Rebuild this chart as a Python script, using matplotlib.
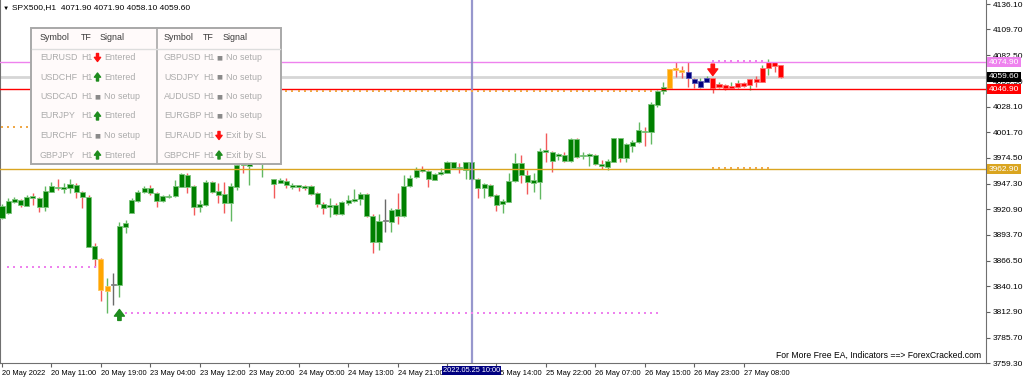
import numpy as np
import matplotlib.pyplot as plt
from matplotlib.patches import Rectangle
from matplotlib.transforms import blended_transform_factory

plt.rcParams['font.family'] = ['Liberation Sans', 'DejaVu Sans']

# SPX500 H1 candles
opens = [3911.5, 3916.8, 3928.3, 3930.4, 3924.1, 3934.6, 3932.5, 3923.1, 3938.8, 3944.1,
         3942.0, 3943.0, 3946.2, 3938.8, 3933.6, 3882.1, 3868.5, 3834.9, 3841.2, 3841.2,
         3902.1, 3916.8, 3929.4, 3938.8, 3943.0, 3937.8, 3929.4, 3933.6, 3934.6, 3944.1,
         3956.7, 3945.1, 3923.1, 3925.2, 3949.3, 3939.9, 3936.7, 3927.3, 3944.1, 3972.4,
         3966.1, 3972.4, 3968.2, 3974.5, 3952.5, 3948.3, 3950.4, 3944.1, 3946.2, 3945.1,
         3945.1, 3937.8, 3926.2, 3923.1, 3925.2, 3915.7, 3927.3, 3929.4, 3931.5, 3936.7,
         3913.6, 3886.3, 3908.4, 3907.3, 3921.0, 3913.6, 3945.1, 3954.6, 3963.0, 3960.9,
         3951.4, 3957.7, 3958.8, 3970.3, 3965.1, 3961.9, 3970.3, 3952.5, 3943.0, 3946.2,
         3935.7, 3926.2, 3928.3, 3950.4, 3969.3, 3956.7, 3948.3, 3949.3, 3982.9, 3980.8,
         3976.6, 3977.7, 3971.4, 3994.5, 3976.6, 3976.6, 3977.7, 3968.2, 3965.1, 3970.3,
         3995.5, 3974.5, 3987.1, 3991.3, 4002.9, 4001.8, 4030.2, 4044.9, 4048.0, 4069.0,
         4066.9, 4064.8, 4057.5, 4049.1, 4054.3, 4058.5, 4049.1, 4051.2, 4048.0, 4049.1,
         4053.3, 4051.2, 4057.5, 4054.3, 4069.0, 4075.3, 4071.9]
highs = [3926.2, 3932.5, 3933.6, 3931.5, 3935.7, 3937.8, 3933.6, 3945.1, 3949.3, 3952.5,
         3948.3, 3952.5, 3948.3, 3939.5, 3935.7, 3885.3, 3869.5, 3848.5, 3853.8, 3907.3,
         3909.4, 3932.5, 3940.9, 3945.1, 3946.2, 3938.8, 3935.7, 3936.7, 3951.4, 3958.8,
         3958.8, 3946.2, 3930.4, 3951.4, 3950.4, 3948.3, 3949.3, 3948.3, 3969.3, 3977.7,
         3977.7, 3982.9, 3980.8, 3977.7, 3952.8, 3953.5, 3953.5, 3948.3, 3946.5, 3946.2,
         3946.2, 3938.8, 3928.3, 3932.5, 3927.3, 3929.4, 3935.7, 3942.0, 3938.8, 3937.8,
         3915.7, 3915.7, 3931.5, 3922.0, 3937.8, 3956.7, 3956.7, 3965.1, 3966.1, 3961.9,
         3958.8, 3964.0, 3971.4, 3970.6, 3969.3, 3970.6, 3970.6, 3953.5, 3948.3, 3947.2,
         3936.7, 3931.5, 3958.8, 3979.8, 3977.7, 3961.9, 3958.8, 3985.0, 4000.8, 3981.9,
         3979.8, 3980.8, 3995.5, 3995.5, 3980.8, 3979.8, 3978.7, 3972.4, 3973.5, 3995.5,
         3995.8, 3990.3, 3993.4, 4012.3, 4007.1, 4033.3, 4045.9, 4054.3, 4068.0, 4075.3,
         4071.1, 4075.3, 4058.5, 4058.5, 4060.6, 4058.8, 4054.3, 4052.2, 4054.3, 4056.4,
         4054.3, 4057.5, 4060.6, 4072.2, 4078.5, 4075.6, 4071.9]
lows = [3910.5, 3916.2, 3927.3, 3923.1, 3923.8, 3925.2, 3917.8, 3918.9, 3938.5, 3940.9,
        3937.8, 3937.8, 3932.5, 3922.0, 3881.1, 3860.1, 3824.4, 3811.8, 3820.2, 3828.6,
        3895.8, 3916.5, 3928.3, 3937.8, 3935.7, 3923.1, 3928.3, 3932.5, 3933.6, 3943.8,
        3937.8, 3914.7, 3917.8, 3924.1, 3937.8, 3927.3, 3916.8, 3908.4, 3940.9, 3958.8,
        3946.2, 3968.2, 3954.6, 3968.2, 3932.5, 3948.0, 3943.0, 3942.0, 3939.9, 3940.9,
        3935.7, 3923.1, 3915.7, 3912.6, 3914.7, 3914.7, 3925.2, 3928.3, 3925.2, 3912.6,
        3874.8, 3877.9, 3896.8, 3896.8, 3905.2, 3912.6, 3944.1, 3953.5, 3959.8, 3944.1,
        3951.1, 3956.7, 3958.5, 3963.9, 3958.8, 3952.5, 3951.4, 3932.5, 3932.5, 3933.6,
        3918.9, 3916.8, 3928.0, 3949.3, 3948.3, 3936.7, 3938.8, 3931.5, 3970.3, 3959.8,
        3972.4, 3970.3, 3970.3, 3974.5, 3973.5, 3966.1, 3967.2, 3963.0, 3961.9, 3970.0,
        3970.3, 3970.3, 3980.8, 3990.3, 3987.1, 3989.2, 4028.1, 4041.7, 4047.7, 4059.6,
        4058.5, 4049.1, 4048.0, 4048.0, 4054.0, 4042.8, 4048.0, 4045.9, 4047.7, 4048.0,
        4049.1, 4045.9, 4049.1, 4054.0, 4061.7, 4064.8, 4058.1]
closes = [3924.1, 3929.4, 3931.5, 3925.2, 3933.6, 3932.5, 3923.1, 3939.9, 3945.1, 3943.0,
          3944.1, 3947.2, 3938.8, 3933.6, 3881.5, 3868.5, 3835.9, 3840.1, 3841.0, 3903.1,
          3906.3, 3930.4, 3938.8, 3943.0, 3937.8, 3929.4, 3934.6, 3934.6, 3945.1, 3957.7,
          3944.1, 3923.1, 3926.2, 3949.3, 3938.8, 3935.7, 3927.3, 3945.1, 3967.2, 3967.2,
          3974.5, 3977.7, 3974.5, 3969.3, 3947.2, 3951.4, 3946.2, 3946.2, 3944.1, 3943.0,
          3936.7, 3926.2, 3922.0, 3925.2, 3915.7, 3928.3, 3930.4, 3931.5, 3936.7, 3913.6,
          3886.3, 3908.4, 3908.6, 3919.9, 3913.6, 3945.1, 3953.5, 3961.9, 3960.9, 3952.5,
          3957.7, 3959.8, 3970.3, 3964.3, 3964.0, 3970.3, 3952.5, 3943.0, 3947.2, 3934.6,
          3925.2, 3929.4, 3950.4, 3969.3, 3956.7, 3949.3, 3951.4, 3981.9, 3980.8, 3971.4,
          3978.7, 3971.4, 3994.5, 3975.6, 3977.7, 3978.7, 3968.2, 3966.1, 3971.4, 3995.2,
          3974.5, 3989.2, 3991.3, 4003.9, 4001.8, 4031.2, 4044.9, 4049.1, 4067.7, 4066.9,
          4064.8, 4058.5, 4053.3, 4055.4, 4058.5, 4048.0, 4052.2, 4048.0, 4050.1, 4053.3,
          4050.1, 4057.3, 4054.3, 4069.0, 4075.3, 4071.1, 4059.6]

# bars painted by the signal indicator
orange_bars = [16, 17, 108, 109, 110]
gray_bars = [18, 62]
navy_bars = [111, 112, 113, 114]
red_bars = list(range(115, 127))

# levels
violet_level = 4074.90
bid_level = 4059.60
red_level = 4046.90
gold_level = 3962.90
cursor_bar = 76

# dotted indicator levels: (price, first bar, last bar, colour)
dotted_levels = [
    (4044.9, 40, 105, '#f0a848'),
    (4007.1, 0, 12, '#f0a848'),
    (3860.0, 1, 15, '#ee82ee'),
    (3812.1, 20, 106, '#ee82ee'),
    (4076.3, 115, 123, '#ee82ee'),
    (3964.3, 115, 124, '#f0a848'),
]

# every 8th bar; the 25 May 06:00 label sits under the cursor time tag
x_tick_labels = ['20 May 2022', '20 May 11:00', '20 May 19:00', '23 May 04:00',
                 '23 May 12:00', '23 May 20:00', '24 May 05:00', '24 May 13:00',
                 '24 May 21:00', '', '25 May 14:00', '25 May 22:00',
                 '26 May 07:00', '26 May 15:00', '26 May 23:00', '27 May 08:00']
y_tick_values = [4136.10, 4109.70, 4082.50, 4055.30, 4028.10, 4001.70, 3974.50,
                 3947.30, 3920.90, 3893.70, 3866.50, 3840.10, 3812.90, 3785.70, 3759.30]

# signal table
left_symbols = ['EURUSD', 'USDCHF', 'USDCAD', 'EURJPY', 'EURCHF', 'GBPJPY']
left_marks = ['down', 'up', 'none', 'up', 'none', 'up']
left_signals = ['Entered', 'Entered', 'No setup', 'Entered', 'No setup', 'Entered']
right_symbols = ['GBPUSD', 'USDJPY', 'AUDUSD', 'EURGBP', 'EURAUD', 'GBPCHF']
right_marks = ['none', 'none', 'none', 'none', 'down', 'up']
right_signals = ['No setup', 'No setup', 'No setup', 'No setup', 'Exit by SL', 'Exit by SL']

W, H = 1024, 380
fig = plt.figure(figsize=(W / 100, H / 100), dpi=100)
ax = fig.add_axes([0, (H - 363) / H, 986 / W, 363 / H])

o = np.array(opens)
hi = np.array(highs)
lo = np.array(lows)
c = np.array(closes)
idx = np.arange(len(o))

wick_colors = np.where(c >= o, '#62b862', '#f25a5a').astype(object)
body_colors = np.array(['#008000'] * len(o), dtype=object)
edge_colors = np.array(['#7cc47c'] * len(o), dtype=object)
for i in orange_bars:
    body_colors[i], edge_colors[i] = '#ffa500', '#ffc45c'
for i in gray_bars:
    body_colors[i], edge_colors[i], wick_colors[i] = '#808080', '#808080', '#6a6a6a'
for i in navy_bars:
    body_colors[i], edge_colors[i] = '#000080', '#5a5ab4'
for i in red_bars:
    body_colors[i], edge_colors[i] = '#ff0000', '#ff7070'

ax.vlines(idx, lo, hi, colors=list(wick_colors), lw=1.0, zorder=2)
heights = np.maximum(np.abs(c - o), 0.9)
ax.bar(idx, heights, bottom=np.minimum(o, c), width=0.82, color=list(body_colors),
       edgecolor=list(edge_colors), linewidth=0.6, zorder=3)

ax.axhline(bid_level, color='#d6d6d6', lw=2.0, zorder=1)
ax.axhline(violet_level, color='#ee82ee', lw=1, zorder=4)
ax.axhline(red_level, color='#ff0000', lw=1, zorder=4)
ax.axhline(gold_level, color='#daa520', lw=1, zorder=4)
ax.axvline(cursor_bar, color='#8c8cc8', lw=1.6, alpha=0.9, zorder=4)

for price, b0, b1, col in dotted_levels:
    xs = np.arange(b0, b1 + 1)
    ax.scatter(xs, np.full(len(xs), price), marker='s', s=2.2, color=col,
               linewidths=0, zorder=4)

# entry arrows
arrow_style = 'simple,head_width=0.9,head_length=0.6,tail_width=0.3'
ax.annotate('', xy=(19, 3815.5), xytext=(19, 3804.0),
            arrowprops=dict(arrowstyle=arrow_style, color='#1e8c1e', shrinkA=0, shrinkB=0,
                            mutation_scale=8), zorder=5)
ax.annotate('', xy=(115, 4061.0), xytext=(115, 4073.0),
            arrowprops=dict(arrowstyle=arrow_style, color='#ff1010', shrinkA=0, shrinkB=0,
                            mutation_scale=8), zorder=5)

ax.set_xlim(-0.32, 159.2)
ax.set_ylim(3759.3, 4140.35)

ax.yaxis.tick_right()
ax.set_yticks(y_tick_values)
ax.set_yticklabels([f'{v:.2f}' for v in y_tick_values])
ax.tick_params(axis='y', direction='out', length=3, pad=2, labelsize=6, color='#606060')

ax.set_xticks(np.arange(len(x_tick_labels)) * 8)
ax.set_xticklabels(x_tick_labels, ha='left')
ax.tick_params(axis='x', direction='out', length=3, pad=2, labelsize=5.4, color='#606060')

ax.spines['top'].set_visible(False)
for s in ['left', 'right', 'bottom']:
    ax.spines[s].set_color('#707070')
    ax.spines[s].set_linewidth(0.8)

# price tags on the right axis
ty = blended_transform_factory(ax.transAxes, ax.transData)
for price, col in [(violet_level, '#ee82ee'), (bid_level, '#000000'),
                   (red_level, '#ff0000'), (gold_level, '#daa520')]:
    ax.text(1.003, price, f'{price:.2f}', transform=ty, ha='left', va='center',
            fontsize=6, color='white', clip_on=False, zorder=10,
            bbox=dict(boxstyle='square,pad=0.18', fc=col, ec='none'))

# time tag of the vertical line
tx = blended_transform_factory(ax.transData, ax.transAxes)
ax.text(cursor_bar, -0.012, '2022.05.25 10:00', transform=tx, ha='center', va='top',
        fontsize=5.3, color='white', clip_on=False, zorder=10,
        bbox=dict(boxstyle='square,pad=0.15', fc='#000080', ec='none'))

# overlay in pixel coordinates for the header, table and watermark
ov = fig.add_axes([0, 0, 1, 1], zorder=5)
ov.set_xlim(0, W)
ov.set_ylim(H, 0)
ov.axis('off')
ov.patch.set_alpha(0)

ov.text(3, 8, '▼', fontsize=4.5, va='center', ha='left', color='black')
ov.text(12, 8, 'SPX500,H1  4071.90 4071.90 4058.10 4059.60', fontsize=6,
        va='center', ha='left', color='black')
ov.text(981, 355, 'For More Free EA, Indicators ==> ForexCracked.com', fontsize=6.2,
        va='center', ha='right', color='black')

ov.add_patch(Rectangle((31, 28), 250, 136, fc='#fffafa', ec='#a8a8a8', lw=1.4))
ov.plot([157, 157], [28, 164], color='#a8a8a8', lw=1.2)
ov.plot([32, 280], [48.5, 48.5], color='#dddddd', lw=1)

head_col = '#3a3a3a'
row_col = '#ababab'
fs = 6.4
for x_sym, x_tf, x_sig in [(40, 81, 100), (164, 203, 223)]:
    ov.text(x_sym, 38, 'Symbol', fontsize=fs, color=head_col, va='center')
    ov.text(x_tf, 38, 'TF', fontsize=fs, color=head_col, va='center')
    ov.text(x_sig, 38, 'Signal', fontsize=fs, color=head_col, va='center')


def draw_mark(x, y, kind):
    if kind == 'none':
        ov.text(x, y, '■', fontsize=4.5, color='#8a8a8a', va='center', ha='center',
                family='DejaVu Sans')
    else:
        col = '#1e8c1e' if kind == 'up' else '#ff1010'
        y0, y1 = (y + 4, y - 4) if kind == 'up' else (y - 4, y + 4)
        ov.annotate('', xy=(x, y1), xytext=(x, y0),
                    arrowprops=dict(arrowstyle=arrow_style, color=col,
                                    shrinkA=0, shrinkB=0, mutation_scale=5))


for k in range(len(left_symbols)):
    y = 57.5 + k * 19.5
    ov.text(40, y, left_symbols[k], fontsize=fs, color=row_col, va='center')
    ov.text(81, y, 'H1', fontsize=fs, color=row_col, va='center')
    draw_mark(97.5, y, left_marks[k])
    ov.text(104, y, left_signals[k], fontsize=fs, color=row_col, va='center')
    ov.text(164, y, right_symbols[k], fontsize=fs, color=row_col, va='center')
    ov.text(203, y, 'H1', fontsize=fs, color=row_col, va='center')
    draw_mark(219, y, right_marks[k])
    ov.text(226, y, right_signals[k], fontsize=fs, color=row_col, va='center')

fig.savefig('out.png', dpi=100, facecolor='white')
